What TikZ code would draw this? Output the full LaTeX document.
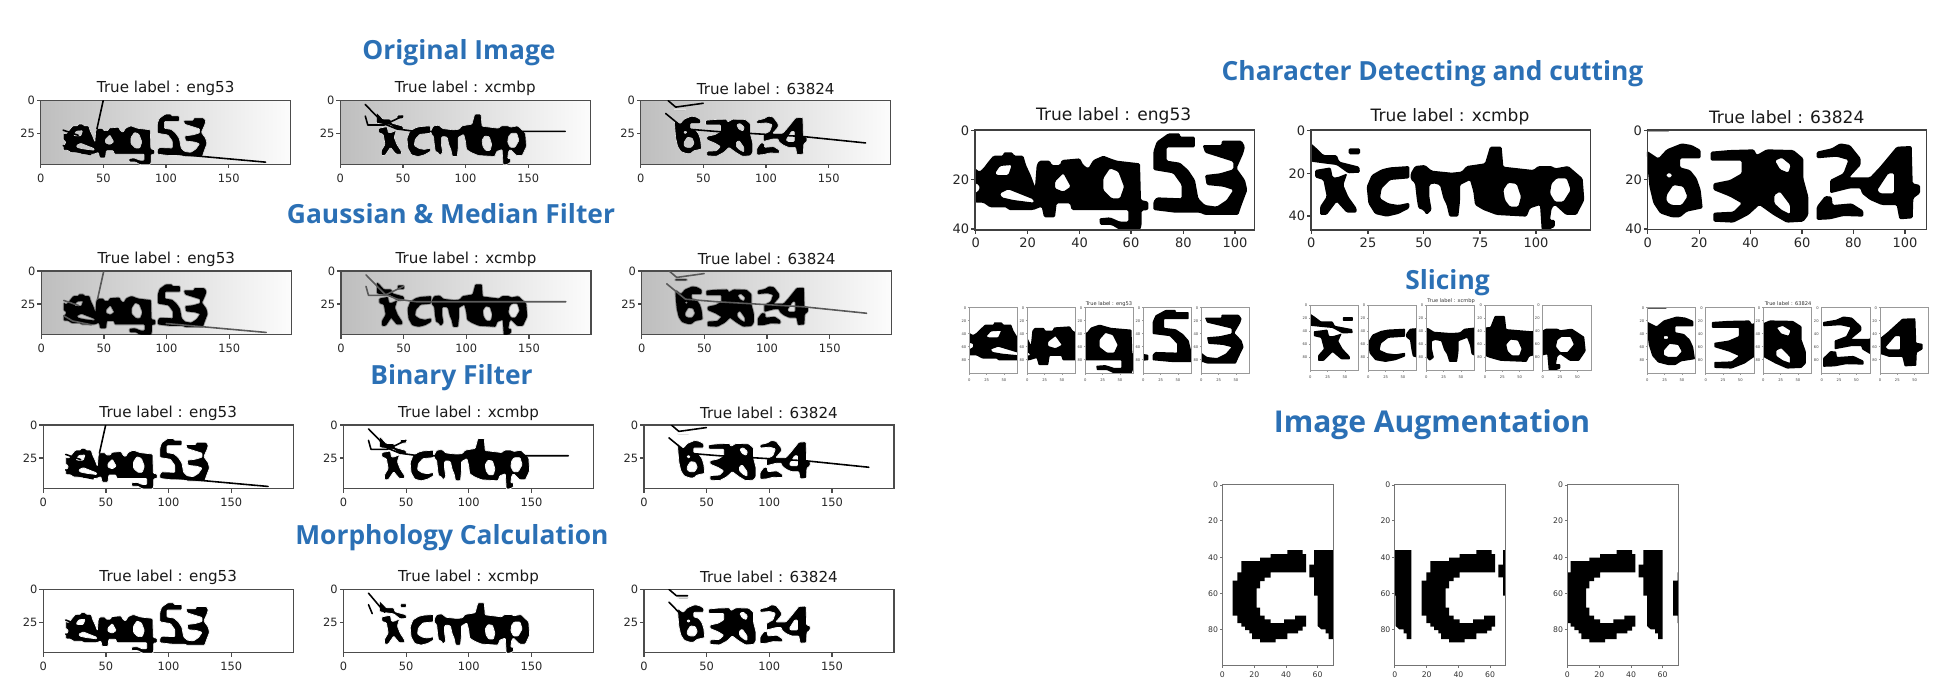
\documentclass[tikz,border=0pt]{standalone}
\usepackage{fontspec}
\setmainfont{DejaVu Sans}
\newfontfamily\ttlfont{Open Sans}[BoldFont={Open Sans Bold}]
\definecolor{ttlblue}{HTML}{2B70B5}
\definecolor{bgleft}{HTML}{BEBEBE}
\definecolor{bgmid}{HTML}{E3E3E3}
\definecolor{bgright}{HTML}{FCFCFC}
% ---- glyph outlines, traced in zoom coordinates
\def\pathEng{(105,235)--(118,245)--(130,235)--(145,215)--(160,197)--(190,197)--(190,187)--(218,187)--(222,197)--(250,197)--(258,225)--(272,255)--(285,290)--(290,225)--(298,212)--(330,212)--(335,225)--(360,225)--(365,210)--(420,205)--(430,225)--(445,235)--(460,210)--(490,197)--(510,205)--(530,212)--(600,220)--(603,330)--(625,335)--(625,360)--(605,362)--(605,405)--(600,420)--(540,420)--(515,405)--(480,405)--(478,385)--(510,382)--(540,395)--(565,395)--(565,360)--(395,360)--(390,340)--(350,340)--(345,382)--(312,382)--(305,350)--(280,360)--(205,360)--(200,352)--(150,352)--(130,338)--(105,338)--(105,310)--(118,300)--(118,285)--(105,280)--cycle
(165,250)--(180,228)--(215,225)--(205,255)--(170,255)--cycle
(180,310)--(205,298)--(240,312)--(280,328)--(282,338)--(220,330)--(185,322)--cycle
(345,275)--(370,250)--(392,290)--(370,305)--(345,295)--cycle
(490,265)--(510,235)--(535,245)--(552,290)--(540,325)--(515,325)--(490,300)--cycle
(650,155)--(685,130)--(720,130)--(720,140)--(765,140)--(765,172)--(680,172)--(680,212)--(720,218)--(745,240)--(765,270)--(775,325)--(795,345)--(830,350)--(860,330)--(880,300)--(850,290)--(800,285)--(795,255)--(840,250)--(880,238)--(880,215)--(795,188)--(788,165)--(845,165)--(845,152)--(905,152)--(915,170)--(910,190)--(890,235)--(915,270)--(922,300)--(905,345)--(895,375)--(795,375)--(780,368)--(705,368)--(640,360)--(640,335)--(650,322)--(725,325)--(725,285)--(700,250)--(640,240)--(640,185)--cycle}
\def\pathXcm{(1113,160)--(1130,175)--(1150,195)--(1190,195)--(1198,215)--(1258,230)--(1260,248)--(1225,250)--(1190,225)--(1150,220)--(1113,215)--cycle
(1226,175)--(1260,175)--(1260,193)--(1226,193)--cycle
(1125,240)--(1172,232)--(1178,262)--(1192,262)--(1222,250)--(1210,285)--(1225,320)--(1250,355)--(1250,368)--(1220,368)--(1190,335)--(1160,375)--(1140,375)--(1140,350)--(1160,320)--(1150,270)--(1125,262)--cycle
(1280,290)--(1295,255)--(1325,238)--(1350,232)--(1408,228)--(1408,265)--(1350,270)--(1325,295)--(1320,325)--(1345,340)--(1375,345)--(1408,338)--(1408,355)--(1375,372)--(1340,380)--(1305,372)--(1285,340)--cycle
(1412,250)--(1425,228)--(1455,225)--(1475,242)--(1535,248)--(1565,245)--(1580,228)--(1635,220)--(1650,170)--(1685,170)--(1690,230)--(1780,240)--(1795,228)--(1835,228)--(1845,235)--(1885,228)--(1905,245)--(1928,265)--(1933,330)--(1910,375)--(1878,375)--(1845,345)--(1835,355)--(1830,390)--(1845,390)--(1845,410)--(1825,420)--(1805,420)--(1800,345)--(1770,355)--(1760,380)--(1670,375)--(1630,360)--(1605,345)--(1600,305)--(1590,270)--(1560,285)--(1560,335)--(1555,380)--(1528,380)--(1520,345)--(1510,325)--(1500,285)--(1480,280)--(1468,285)--(1468,320)--(1475,360)--(1460,375)--(1450,360)--(1435,355)--(1430,325)--(1425,280)--(1412,268)--cycle
(1690,300)--(1705,278)--(1730,282)--(1743,320)--(1735,350)--(1710,350)--(1695,330)--cycle
(1835,280)--(1850,265)--(1880,265)--(1892,300)--(1870,335)--(1845,335)--(1830,310)--cycle}
\def\pathSix{(620,118)--(690,118)--(690,124)--(620,124)--cycle
(620,182)--(655,205)--(680,178)--(725,160)--(755,165)--(782,180)--(782,205)--(720,205)--(720,232)--(750,240)--(770,265)--(782,300)--(788,355)--(740,365)--(720,382)--(695,382)--(660,370)--(640,340)--(628,290)--(622,225)--cycle
(680,315)--(700,285)--(730,290)--(742,320)--(725,345)--(695,345)--(680,335)--cycle
(680,250)--(695,250)--(695,262)--(680,262)--cycle
(812,185)--(870,180)--(942,178)--(950,195)--(980,178)--(1060,180)--(1090,205)--(1090,265)--(1105,320)--(1105,375)--(1090,395)--(1040,398)--(1000,375)--(958,345)--(925,375)--(880,398)--(820,395)--(820,368)--(880,365)--(905,340)--(870,320)--(820,300)--(820,280)--(870,270)--(905,250)--(905,212)--(812,212)--cycle
(1005,212)--(1025,203)--(1052,225)--(1045,248)--(1020,238)--cycle
(1003,315)--(1020,305)--(1050,345)--(1050,372)--(1025,360)--(1003,340)--cycle
(1130,185)--(1175,175)--(1200,160)--(1230,165)--(1262,205)--(1262,225)--(1228,262)--(1290,262)--(1320,230)--(1370,170)--(1415,168)--(1418,280)--(1440,285)--(1440,310)--(1420,325)--(1418,385)--(1378,388)--(1370,345)--(1325,345)--(1290,330)--(1265,310)--(1262,295)--(1230,295)--(1170,310)--(1170,270)--(1210,250)--(1225,210)--(1190,200)--(1130,205)--cycle
(1312,300)--(1345,250)--(1362,250)--(1362,310)--(1320,310)--cycle
(1130,350)--(1155,318)--(1175,320)--(1178,345)--(1235,340)--(1270,362)--(1270,380)--(1210,378)--(1170,388)--(1130,390)--cycle}
\def\pathAug{(158,332)--(172,332)--(172,307)--(184,307)--(184,273)--(240,273)--(240,263)--(272,263)--(272,252)--(322,252)--(322,240)--(368,240)--(368,252)--(378,252)--(378,307)--(272,307)--(272,323)--(254,323)--(254,333)--(240,333)--(240,355)--(230,355)--(230,413)--(240,413)--(240,437)--(254,437)--(254,448)--(272,448)--(272,459)--(312,459)--(312,448)--(345,448)--(345,437)--(378,437)--(378,470)--(368,470)--(368,482)--(354,482)--(354,490)--(322,490)--(322,507)--(287,507)--(287,517)--(240,517)--(240,507)--(216,507)--(216,490)--(208,490)--(208,480)--(195,480)--(195,470)--(184,470)--(184,459)--(172,459)--(172,437)--(158,437)--cycle
(402,240)--(460,240)--(460,507)--(446,507)--(446,490)--(437,490)--(437,478)--(424,478)--(413,468)--(413,377)--(402,377)--(402,322)--(388,322)--(388,284)--(402,284)--cycle}
\tikzset{
  sectiontitle/.style={font=\ttlfont\bfseries\fontsize{15}{18}\selectfont,text=ttlblue,inner sep=0pt,anchor=center},
  largetitle/.style={font=\ttlfont\bfseries\fontsize{17.1}{20}\selectfont,text=ttlblue,inner sep=0pt,anchor=center},
  rowA/.style={font=\fontsize{6.5}{8}\selectfont,text=black!85,inner sep=0pt},
  rowAframe/.style={draw=black!70,line width=.7pt},
  rowAtitle/.style={font=\fontsize{8.6}{10}\selectfont,text=black!90,inner sep=0pt},
  bigA/.style={font=\fontsize{7.4}{9}\selectfont,text=black!85,inner sep=0pt},
  bigAframe/.style={draw=black!75,line width=.7pt},
  bigAtitle/.style={font=\fontsize{9.7}{11}\selectfont,text=black!90,inner sep=0pt},
  sliceA/.style={font=\fontsize{2.1}{3}\selectfont,text=black!75,inner sep=0pt},
  sliceAframe/.style={draw=black!40,line width=.35pt},
  sliceAtitle/.style={font=\fontsize{2.9}{4}\selectfont,text=black!80,inner sep=0pt},
  augA/.style={font=\fontsize{4.4}{6}\selectfont,text=black!80,inner sep=0pt},
  augAframe/.style={draw=black!55,line width=.45pt},
  noise/.style={draw=black,line width=.9pt,line cap=round,line join=round},
  softink/.style={draw=black,draw opacity=.3,line width=1pt,line join=round},
  thinink/.style={draw=white,line width=.4pt,line join=round},
  thinonbg/.style={draw=bgmid,line width=.35pt,line join=round},
}
\def\rowAlen{4}\def\bigAlen{4}\def\sliceAlen{1.2}\def\augAlen{2.5}
\def\rowAgap{9}\def\bigAgap{9}\def\sliceAgap{2}\def\augAgap{5}
% id, x0,y0,x1,y1, xticks offset/label, yticks offset/label, kind
\newcommand{\panelaxes}[8]{%
  \draw[#8frame] (#2,#3) rectangle (#4,#5);
  \foreach \p/\l [count=\n] in {#6}{%
    \draw[#8frame] (#2+\p,#5) -- ++(0,\csname #8len\endcsname);
    \node[#8,anchor=mid] (#1x\n) at (#2+\p,#5+\csname #8len\endcsname+\csname #8gap\endcsname) {\l};
  }
  \foreach \p/\l [count=\n] in {#7}{%
    \draw[#8frame] (#2,#3+\p) -- ++(-\csname #8len\endcsname,0);
    \node[#8,anchor=east] (#1y\n) at (#2-\csname #8len\endcsname-1.5,#3+\p) {\l};
  }
}
\newcommand{\inkat}[8][]{%
  \begin{scope}[shift={({#3-#7*#5},{#4-#8*#6})},xscale=#7,yscale=#8]
    \fill[black,even odd rule,rounded corners=.5pt,#1] #2;
  \end{scope}%
}
\newcommand{\rowpanel}[5]{%
  \ifnum#5=1 \shade[left color=bgleft,middle color=bgmid,right color=bgright] (#2,#3) rectangle ++(250,63.5);\fi
  \panelaxes{#1}{#2}{#3}{#2+250}{#3+63.5}{0/0,62.7/50,125.3/100,188/150}{0/0,33/25}{rowA}
  \node[rowAtitle] (#1t) at (#2+125,#3-12) {#4};
}
\newcommand{\engink}[4][]{\begin{scope}\clip (#2,#3) rectangle ++(250,63.5);\inkat[#1]{\pathEng}{#2+22.5}{#3+13.4}{105}{130}{.176}{.174}%
 \begin{scope}[shift={(#2,#3)},x=.025cm,y=-.0256cm]#4\end{scope}\end{scope}}
\newcommand{\xcmink}[4][]{\begin{scope}\clip (#2,#3) rectangle ++(250,63.5);\inkat[#1]{\pathXcm}{#2+38.3}{#3+13.4}{1125}{170}{.183}{.202}%
 \begin{scope}[shift={(#2,#3)},x=.025cm,y=-.0256cm]#4\end{scope}\end{scope}}
\newcommand{\sixink}[4][]{\begin{scope}\clip (#2,#3) rectangle ++(250,63.5);\inkat[#1]{\pathSix}{#2+35}{#3+15.4}{628}{160}{.1616}{.169}%
 \begin{scope}[shift={(#2,#3)},x=.025cm,y=-.0256cm]#4\end{scope}\end{scope}}
\def\noiseEng{\draw[noise] (50,0)--(45,22);\draw[noise] (18,23)--(30,27);\draw[noise] (18,35)--(25,39)--(40,42);\draw[noise] (100,41)--(180,48);}
\def\noiseXcm{\draw[noise] (20,3)--(35,18)--(45,22)--(60,24)--(180,24);\draw[noise] (20,12)--(22,19)--(35,19)--(50,12);}
\def\noiseSix{\draw[noise] (22,0)--(28,5)--(50,2);\draw[noise] (20,10)--(35,22)--(60,24)--(130,28)--(180,33);}
\def\morphEng{\draw[noise] (18,24)--(26,27);\draw[noise] (18,35)--(26,38);}
\def\morphXcm{\draw[noise] (20,3)--(33,18);\draw[noise] (20,12)--(23,19);}
\def\morphSix{\draw[noise] (20,0)--(26,5)--(35,5);\draw[noise] (20,10)--(32,22);}
\newcommand{\slicepanel}[5]{%
  \begin{scope}\clip (#3,#4) rectangle ++(48.4,65.7);
    \inkat[rounded corners=.4pt]{#2}{#3}{#4}{#5}{120}{.2889}{.219}
  \end{scope}
  \panelaxes{#1}{#3}{#4}{#3+48.4}{#4+65.7}{0/0,17.3/25,34.6/50}{0/0,13/20,26/40,39/60,52/80}{sliceA}
}
\newcommand{\augpanel}[3]{%
  \begin{scope}\clip (#2,484) rectangle ++(111,181);
    \foreach \sh in {-333,0,333}{%
      \begin{scope}[shift={({1180+(#3+\sh)/3},470)},scale=.33333]
        \fill[black,even odd rule] \pathAug;
      \end{scope}}
  \end{scope}
  \panelaxes{#1}{#2}{484}{#2+111}{665}{0/0,32/20,63.7/40,95.3/60}{1/0,36.7/20,73.3/40,109.3/60,145.3/80}{augA}
}
\begin{document}
\begin{tikzpicture}[x=.02cm,y=-.02cm]
\useasboundingbox[fill=white] (0,0) rectangle (1939,684);
% section titles
\node[sectiontitle] (tOrig) at (459,52.5) {Original Image};
\node[sectiontitle] (tGauss) at (451,214) {Gaussian \& Median Filter};
\node[sectiontitle] (tBin) at (451.5,378) {Binary Filter};
\node[sectiontitle] (tMorph) at (452,538) {Morphology Calculation};
\node[sectiontitle] (tChar) at (1432.5,73.5) {Character Detecting and cutting};
\node[sectiontitle] (tSlice) at (1447.5,283) {Slicing};
\node[largetitle] (tAug) at (1432,425) {Image Augmentation};
% row 1
\rowpanel{aa}{40.7}{100.7}{True label : eng53}{1}
\rowpanel{ab}{340.3}{100.7}{True label : xcmbp}{1}
\rowpanel{ac}{640.7}{100.7}{True label : 63824}{1}
\engink[thinonbg]{40.7}{100.7}{\noiseEng}
\xcmink[thinonbg]{340.3}{100.7}{\noiseXcm}
\sixink[thinonbg]{640.7}{100.7}{\noiseSix}
% row 2
\rowpanel{ba}{41.3}{271}{True label : eng53}{1}
\rowpanel{bb}{341}{271}{True label : xcmbp}{1}
\rowpanel{bc}{641.7}{271}{True label : 63824}{1}
\begin{scope}[noise/.append style={draw=black!65}]
\engink[softink]{41.3}{271}{\noiseEng}
\xcmink[softink]{341}{271}{\noiseXcm}
\sixink[softink]{641.7}{271}{\noiseSix}
\end{scope}
% row 3
\rowpanel{ca}{43.2}{425}{True label : eng53}{0}
\rowpanel{cb}{343.5}{425}{True label : xcmbp}{0}
\rowpanel{cc}{643.9}{425}{True label : 63824}{0}
\engink[thinink]{43.2}{425}{\noiseEng}
\xcmink[thinink]{343.5}{425}{\noiseXcm}
\sixink[thinink]{643.9}{425}{\noiseSix}
% row 4
\rowpanel{da}{43.2}{589.3}{True label : eng53}{0}
\rowpanel{db}{343.5}{589.3}{True label : xcmbp}{0}
\rowpanel{dc}{643.9}{589.3}{True label : 63824}{0}
\engink[thinink]{43.2}{589.3}{\morphEng}
\xcmink[thinink]{343.5}{589.3}{\morphXcm}
\sixink[thinink]{643.9}{589.3}{\morphSix}
% character panels
\inkat[rounded corners=.8pt]{\pathEng}{975}{130}{105}{120}{.3333}{.3333}
\panelaxes{ea}{975}{130}{1254.3}{230}{.7/0,52.7/20,104.7/40,156/60,208.3/80,260/100}{0.7/0,49.7/20,99/40}{bigA}
\node[bigAtitle] (eat) at (1113.7,116) {True label : eng53};
\inkat[rounded corners=.8pt]{\pathXcm}{1311}{130}{1113}{120}{.3333}{.3333}
\panelaxes{eb}{1311}{130}{1590.7}{230}{.3/0,57/25,112.7/50,169/75,225/100}{.7/0,43.3/20,86/40}{bigA}
\node[bigAtitle] (ebt) at (1450,117) {True label : xcmbp};
\inkat[rounded corners=.8pt]{\pathSix}{1647.7}{130}{623}{120}{.3333}{.3333}
\panelaxes{ec}{1647.7}{130}{1926.7}{229.7}{0/0,51.5/20,103/40,154.3/60,205.7/80,257.3/100}{.7/0,49.7/20,99/40}{bigA}
\node[bigAtitle] (ect) at (1786.7,117) {True label : 63824};
% slices
\foreach \i/\x in {0/969.3,1/1027.3,2/1085.3,3/1143.3,4/1201.3}{
  \pgfmathsetmacro{\zz}{105+\i*167.6}
  \slicepanel{fa\i}{\pathEng}{\x}{307.7}{\zz}
}
\node[sliceAtitle] (fat) at (1109,303.7) {True label : eng53};
\foreach \i/\x in {0/1310.3,1/1368.3,2/1426.3,3/1485,4/1542.7}{
  \pgfmathsetmacro{\zz}{1113+\i*167.8}
  \slicepanel{fb\i}{\pathXcm}{\x}{305}{\zz}
}
\node[sliceAtitle] (fbt) at (1451,301) {True label : xcmbp};
\foreach \i/\x in {0/1647.3,1/1705.7,2/1763.3,3/1821.7,4/1880}{
  \pgfmathsetmacro{\zz}{623+\i*167.4}
  \slicepanel{fc\i}{\pathSix}{\x}{307.7}{\zz}
}
\node[sliceAtitle] (fct) at (1788,304) {True label : 63824};
% augmentation
\augpanel{ga}{1222.3}{0}
\augpanel{gb}{1394.7}{567}
\augpanel{gc}{1567.3}{988}
\end{tikzpicture}
\end{document}
